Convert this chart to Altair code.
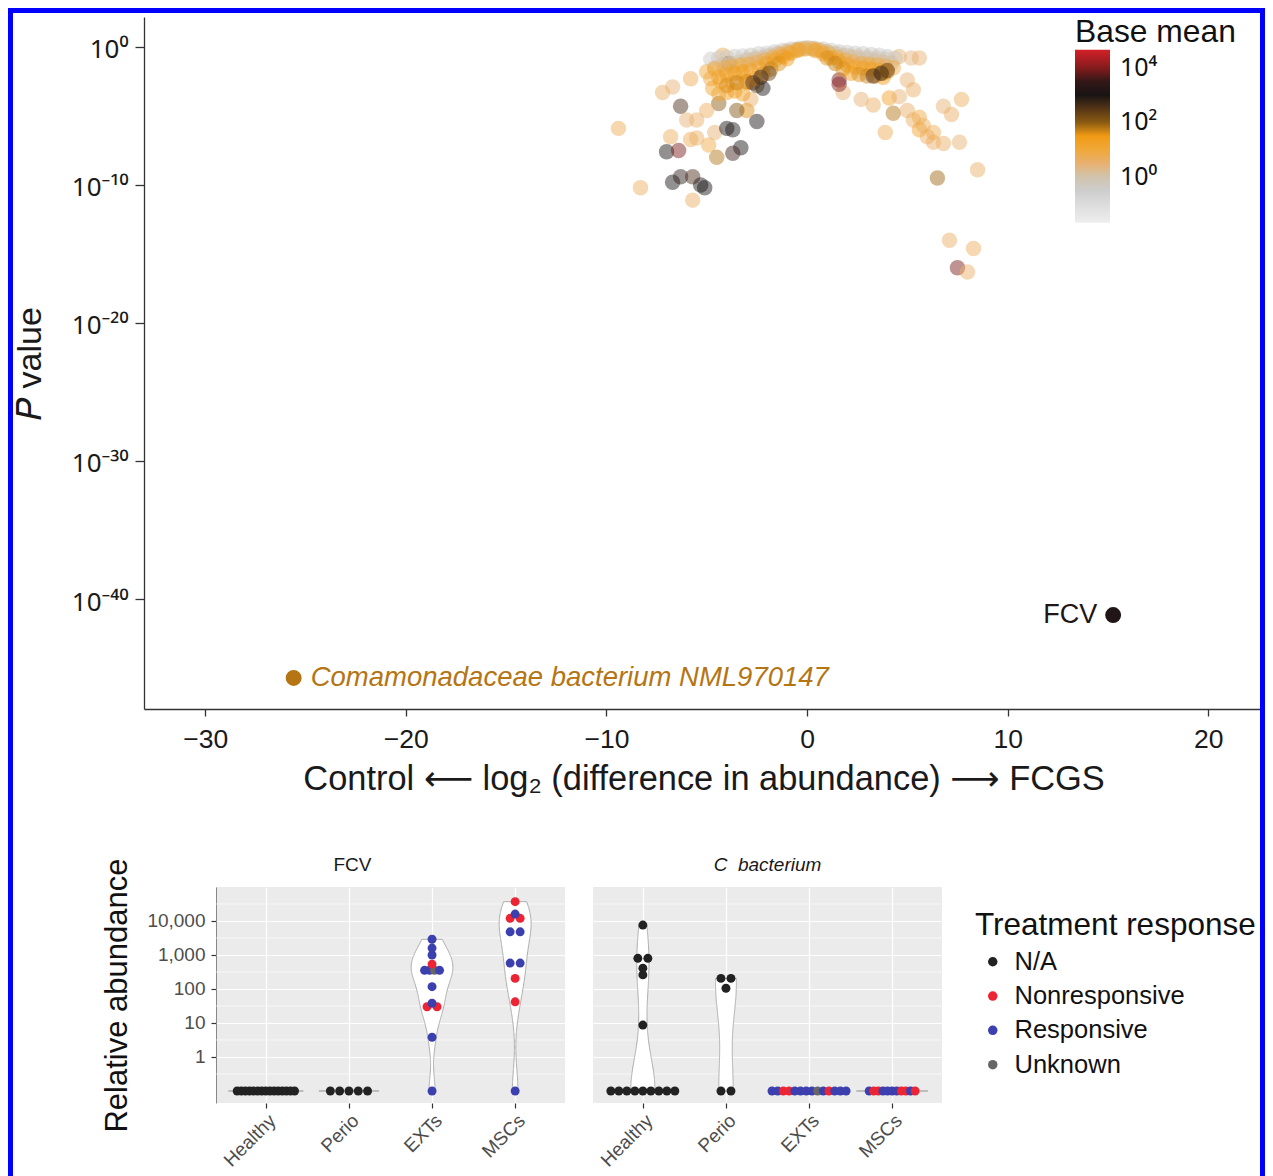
import numpy as np
import pandas as pd
import altair as alt

FONT = "Liberation Sans, DejaVu Sans"
SUP_FONT = "Noto Sans, DejaVu Sans"

# ---------------- volcano plot data (log2 fold change, log10 P, log10 base mean) -------------
left_fc = [-9.4, -8.3, -7.2, -6.7, -5.8, -6.3, -6.8, -7.0, -6.4, -5.8, -5.5, -4.9, -6.7, -6.3,
           -5.7, -5.3, -5.1, -5.7, -4.5, -4.6, -4.0, -3.7, -3.3, -3.7, -2.5, -4.4, -4.8, -4.2,
           -3.9, -5.0, -5.5, -6.0, -3.0, -3.5, -2.8, -4.0, -3.7, -3.0, -3.3, -2.5, -2.2,
           -4.6, -4.3, -4.0, -3.6, -4.4, -5.0, -4.7, -3.2]
left_lp = [-5.9, -10.2, -3.3, -2.9, -2.3, -4.3, -6.5, -7.6, -7.5, -6.7, -6.6, -7.1, -9.8, -9.4,
           -9.4, -10.0, -10.2, -11.1, -8.0, -6.2, -5.9, -6.0, -7.3, -7.7, -5.4, -4.1, -2.3, -0.6,
           -1.2, -4.6, -5.3, -5.3, -4.6, -4.6, -3.8, -3.3, -2.6, -2.6, -1.9, -2.8, -3.0,
           -1.5, -2.5, -1.8, -3.2, -3.4, -1.8, -3.0, -3.4]
left_bm = [0.8, 0.7, 0.6, 0.5, 0.8, 2.6, 0.7, 3.0, 3.9, 0.8, 0.6, 0.9, 3.0, 2.8,
           2.6, 3.1, 3.0, 0.6, 1.8, 0.5, 3.0, 2.9, 3.0, 2.7, 3.0, 2.0, 0.9, 0.8,
           3.0, 0.7, 0.6, 0.5, 1.6, 2.1, 0.6, 1.3, 1.3, 1.3, 1.2, 2.4, 3.0,
           1.3, 1.4, 1.2, 1.5, 1.1, 1.0, 1.2, 1.4]

right_fc = [1.6, 1.8, 2.7, 3.3, 3.9, 4.3, 4.1, 4.6, 5.0, 5.3, 5.6, 6.0, 6.3, 6.8, 7.6, 6.8, 7.2,
            7.7, 8.5, 6.5, 7.1, 8.3, 7.5, 8.0, 4.6, 5.2, 5.6, 5.0, 5.3, 5.6, 5.8, 6.3, 3.8]
right_lp = [-2.4, -3.3, -3.8, -4.2, -6.2, -4.8, -3.7, -3.6, -4.6, -5.3, -6.0, -6.5, -6.9, -7.0,
            -6.9, -4.3, -4.9, -3.8, -8.9, -9.5, -14.0, -14.6, -16.0, -16.3, -0.7, -0.8, -0.8,
            -2.4, -3.1, -5.1, -5.7, -6.2, -1.9]
right_bm = [3.9, 0.5, 0.5, 0.6, 0.8, 1.8, 1.3, 0.5, 0.6, 0.6, 1.2, 0.7, 0.6, 0.6, 0.5, 0.5, 0.6,
            0.7, 0.6, 1.9, 0.6, 0.7, 3.9, 0.6, 0.5, 0.4, 0.5, 0.5, 0.6, 0.9, 0.7, 0.8, 1.3]

arc_gray_fc = [-4.8, -4.4, -4.0, -3.6, -3.2, -2.8, -2.4, -2.0, -1.6, -1.2, -0.8, -0.4, 0.0,
               0.4, 0.8, 1.2, 1.6, 2.0, 2.4, 2.8, 3.2, 3.6, 4.0, 4.4]
arc_gray_lp = [-0.9, -0.8, -0.75, -0.7, -0.65, -0.6, -0.5, -0.45, -0.35, -0.25, -0.15, -0.1, -0.05,
               -0.1, -0.15, -0.25, -0.35, -0.4, -0.45, -0.5, -0.55, -0.6, -0.7, -0.8]
arc_gray_bm = [-0.3, -0.4, -0.2, -0.3, -0.4, -0.2, -0.3, -0.4, -0.3, -0.2, -0.3, -0.4, -0.3,
               -0.4, -0.3, -0.2, -0.3, -0.4, -0.3, -0.2, -0.3, -0.4, -0.3, -0.2]

arc_crest_fc = [-3.0, -2.5, -2.0, -1.5, -1.0, -0.5, 0.0, 0.5, 1.0, 1.5, 2.0, 2.5, 3.0, 3.5, 4.0]
arc_crest_lp = [-0.9, -0.8, -0.65, -0.5, -0.35, -0.2, -0.1, -0.2, -0.35, -0.5, -0.6, -0.7, -0.75,
                -0.8, -0.9]
arc_crest_bm = [-0.2, -0.1, -0.2, -0.1, -0.2, -0.1, -0.2, -0.1, -0.2, -0.1, -0.2, -0.1, -0.2,
                -0.1, -0.2]

arc_tan_fc = [-4.2, -3.8, -3.4, -3.0, -2.6, -2.2, -1.8, -1.4, -1.0, -0.6, -0.2, 0.2, 0.6, 1.0,
              1.4, 1.8, 2.2, 2.6, 3.0, 3.4, 3.8, 4.2]
arc_tan_lp = [-1.3, -1.2, -1.1, -1.0, -0.9, -0.8, -0.6, -0.45, -0.3, -0.2, -0.1, -0.1, -0.2, -0.35,
              -0.5, -0.65, -0.75, -0.85, -0.9, -1.0, -1.1, -1.2]
arc_tan_bm = [0.1, 0.2, 0.0, 0.1, 0.2, 0.1, 0.0, 0.1, 0.2, 0.1, 0.0, 0.1, 0.2, 0.1, 0.0, 0.1,
              0.2, 0.1, 0.0, 0.1, 0.2, 0.1]

arc_mid_fc = [-4.6, -4.1, -3.7, -3.3, -2.9, -2.5, -2.1, -1.7, -1.3, -0.9, -0.5, -0.1, 0.3, 0.7,
              1.1, 1.5, 1.9, 2.3, 2.7, 3.1, 3.5, 3.9, 4.3]
arc_mid_lp = [-1.6, -1.5, -1.4, -1.3, -1.25, -1.1, -0.95, -0.75, -0.55, -0.4, -0.25, -0.15, -0.15,
              -0.3, -0.5, -0.75, -0.95, -1.1, -1.2, -1.25, -1.3, -1.4, -1.5]
arc_mid_bm = [0.9, 0.8, 0.9, 1.0, 0.9, 0.8, 0.9, 1.0, 0.9, 0.8, 0.9, 1.0, 0.9, 0.8, 0.9, 1.0,
              0.9, 0.8, 0.9, 1.0, 0.9, 0.8, 0.9]

arc_orange_fc = [-4.4, -4.0, -3.6, -3.2, -2.8, -2.4, -2.0, -1.6, -1.2, -0.8, -0.4, 0.4, 0.8, 1.2,
                 1.6, 2.0, 2.4, 2.8, 3.2, 3.6, 4.0]
arc_orange_lp = [-2.2, -2.0, -1.9, -1.8, -1.7, -1.5, -1.2, -0.95, -0.7, -0.45, -0.2, -0.25, -0.5,
                 -0.8, -1.05, -1.3, -1.45, -1.55, -1.6, -1.7, -1.8]
arc_orange_bm = [1.3, 1.2, 1.3, 1.4, 1.3, 1.2, 1.3, 1.4, 1.3, 1.2, 1.3, 1.3, 1.2, 1.3, 1.4, 1.3,
                 1.2, 1.3, 1.4, 1.3, 1.2]

arc_deep_fc = [-4.0, -3.5, -3.0, -2.6, -2.2, -1.8, -1.4, -1.0, 1.0, 1.4, 1.8, 2.2, 2.6, 3.0, 3.4,
               3.8, -2.7, -2.3, -1.9, 3.3, 3.7, 4.0, 1.6]
arc_deep_lp = [-2.8, -2.6, -2.5, -2.3, -2.0, -1.6, -1.2, -0.85, -0.8, -1.2, -1.6, -1.9, -2.0, -2.1,
               -2.1, -2.2, -2.6, -2.2, -1.9, -2.1, -1.9, -1.7, -2.7]
arc_deep_bm = [1.6, 1.7, 1.6, 1.5, 1.6, 1.7, 1.6, 1.5, 1.6, 1.7, 1.6, 1.5, 1.6, 1.7, 1.6,
               1.5, 2.6, 2.8, 2.4, 2.6, 2.9, 2.5, 4.0]

hi_names = ["FCV", "Comamonadaceae bacterium NML970147"]
hi_fc = [15.26, -25.59]
hi_lp = [-41.16, -45.72]
hi_bm = [3.25, 1.78]

x_ticks = [-30, -20, -10, 0, 10, 20]
y_ticks = [0, -10, -20, -30, -40]
y_tick_labels = ["10⁰", "10⁻¹⁰", "10⁻²⁰", "10⁻³⁰", "10⁻⁴⁰"]
bm_ticks = [0, 2, 4]
bm_tick_labels = ["10⁰", "10²", "10⁴"]

bm_stops = [-1.69, -0.85, -0.35, 0.05, 0.5, 1.0, 1.5, 2.0, 2.45, 2.95, 3.45, 3.9, 4.66]
bm_colors = ["#eeeeee", "#d8d8d8", "#c8c8c8", "#d2c2a8", "#e8b070", "#f0a838", "#f09a14",
             "#8a5a12", "#5a3a12", "#161414", "#2a1616", "#7a1a1a", "#d42028"]

# ---------------- abundance panels data ----------------
groups_order = ["Healthy", "Perio", "EXTs", "MSCs"]

fcv_group = (["Healthy"] * 15 + ["Perio"] * 5 + ["EXTs"] * 14 + ["MSCs"] * 11)
fcv_value = ([0, 0, 0, 0, 0, 0, 0, 0, 0, 0, 0, 0, 0, 0, 0] + [0, 0, 0, 0, 0]
             + [0, 3.8, 30, 30, 38, 117, 355, 355, 355, 355, 540, 1000, 1600, 2900]
             + [0, 42, 205, 580, 580, 4800, 4800, 12000, 12000, 16000, 37000])
exts_resp = ["Responsive", "Responsive", "Nonresponsive", "Nonresponsive", "Responsive",
             "Responsive", "Responsive", "Responsive", "Unknown", "Responsive", "Nonresponsive",
             "Responsive", "Responsive", "Responsive"]
mscs_resp = ["Responsive", "Nonresponsive", "Nonresponsive", "Responsive", "Responsive",
             "Responsive", "Responsive", "Nonresponsive", "Nonresponsive", "Responsive",
             "Nonresponsive"]
fcv_resp = ["N/A"] * 20 + exts_resp + mscs_resp

cb_group = (["Healthy"] * 15 + ["Perio"] * 5 + ["EXTs"] * 14 + ["MSCs"] * 11)
cb_value = ([0, 0, 0, 0, 0, 0, 0, 0, 0, 8.7, 260, 410, 800, 800, 7600]
            + [0, 0, 105, 205, 205]
            + [0, 0, 0, 0, 0, 0, 0, 0, 0, 0, 0, 0, 0, 0]
            + [0, 0, 0, 0, 0, 0, 0, 0, 0, 0, 0])
cb_resp = ["N/A"] * 20 + exts_resp + mscs_resp

resp_levels = ["N/A", "Nonresponsive", "Responsive", "Unknown"]
resp_colors = ["#222222", "#ec2433", "#3c3fae", "#666666"]

ab_ticks = [0, 1, 2, 3, 4]
ab_minor = [-0.5, 0.5, 1.5, 2.5, 3.5, 4.5]

# dot stacking (pixels) for the zero row in each group
fcv_zero_sp = {"Healthy": 4.1, "Perio": 9.3, "EXTs": 10, "MSCs": 10}
cb_zero_sp = {"Healthy": 8.0, "Perio": 10, "EXTs": 5.7, "MSCs": 4.6}

# ---------------- build volcano ----------------
vol_df = pd.DataFrame({
    "fc": (left_fc + right_fc + arc_gray_fc + arc_crest_fc + arc_tan_fc + arc_mid_fc
           + arc_orange_fc + arc_deep_fc),
    "lp": (left_lp + right_lp + arc_gray_lp + arc_crest_lp + arc_tan_lp + arc_mid_lp
           + arc_orange_lp + arc_deep_lp),
    "bm": (left_bm + right_bm + arc_gray_bm + arc_crest_bm + arc_tan_bm + arc_mid_bm
           + arc_orange_bm + arc_deep_bm),
})
hi_df = pd.DataFrame({"name": hi_names, "fc": hi_fc, "lp": hi_lp, "bm": hi_bm})


def ternary(vals, labels):
    expr = "''"
    for v, l in zip(reversed(vals), reversed(labels)):
        expr = f"datum.value == {v} ? '{l}' : ({expr})"
    return expr


X_ENC = alt.X("fc:Q", scale=alt.Scale(domain=[-33.05, 22.73], nice=False, zero=False),
              axis=alt.Axis(values=x_ticks, format="d",
                            title="Control \u27f5 log₂ (difference in abundance) \u27f6 FCGS",
                            grid=False, labelFontSize=26.5, titleFontSize=34.4,
                            labelColor="#1a1a1a", titleColor="#1a1a1a",
                            tickColor="#333333", domainColor="#333333", tickSize=7,
                            tickWidth=1.3, domainWidth=1.3, labelPadding=10, titlePadding=10,
                            titleFontWeight="normal", labelFlush=False))
Y_ENC = alt.Y("lp:Q", scale=alt.Scale(domain=[-47.97, 2.17], nice=False, zero=False),
              axis=alt.Axis(values=y_ticks, labelExpr=ternary(y_ticks, y_tick_labels),
                            labelFont=SUP_FONT, labelOffset=3,
                            title="𝑃 value", grid=False, labelFontSize=26, titleFontSize=34,
                            labelColor="#1a1a1a", titleColor="#1a1a1a",
                            tickColor="#333333", domainColor="#333333", tickSize=9,
                            tickWidth=1.3, domainWidth=1.3, labelPadding=7, titlePadding=24,
                            titleFontWeight="normal", labelFlush=False))
COLOR_ENC = alt.Color("bm:Q",
                      scale=alt.Scale(domain=bm_stops, range=bm_colors, clamp=True),
                      legend=alt.Legend(title="Base mean", orient="none", legendX=931, legendY=0,
                                        direction="vertical", gradientLength=173,
                                        gradientThickness=35, values=bm_ticks,
                                        labelExpr=ternary(bm_ticks, bm_tick_labels),
                                        labelFont=SUP_FONT,
                                        labelFontSize=25, titleFontSize=31.8,
                                        titleFontWeight="normal", titleColor="#111111",
                                        labelColor="#111111", titlePadding=1, labelOffset=10,
                                        gradientStrokeWidth=0, padding=0))

# decorative blue frame around the whole figure
frame = alt.Chart(alt.Data(values=[{"f": 1}])).mark_rect(
    fillOpacity=0, stroke="#0000ff", strokeWidth=5).encode(
    x=alt.value(-133.5), x2=alt.value(1118.5), y=alt.value(-6.5), y2=alt.value(1180))

pts = alt.Chart(vol_df).mark_circle(size=240, fillOpacity=0.47, opacity=1).encode(
    x=X_ENC, y=Y_ENC, color=COLOR_ENC)
hi_pts = alt.Chart(hi_df).mark_circle(size=254, opacity=1).encode(
    x=X_ENC, y=Y_ENC, color=COLOR_ENC)
fcv_txt = alt.Chart(hi_df).transform_filter("datum.name == 'FCV'").mark_text(
    align="right", baseline="middle", dx=-16, fontSize=27).encode(
    x=X_ENC, y=Y_ENC, color=COLOR_ENC, text="name:N")
com_txt = alt.Chart(hi_df).transform_filter("datum.name != 'FCV'").mark_text(
    align="left", baseline="middle", dx=17, fontSize=27.5, fontStyle="italic").encode(
    x=X_ENC, y=Y_ENC, color=COLOR_ENC, text="name:N")

top = alt.layer(frame, pts, hi_pts, fcv_txt, com_txt).properties(width=1119, height=692)

# ---------------- build abundance panels ----------------
PANEL_W, PANEL_H = 349, 216
PX_PER_UNIT = PANEL_W / 4.2


def nrd0(a):
    n = len(a)
    hi = np.std(a, ddof=1)
    q1, q3 = np.percentile(a, [25, 75])
    lo = min(hi, (q3 - q1) / 1.34)
    if lo == 0:
        lo = hi if hi > 0 else (abs(a[0]) if a[0] != 0 else 1.0)
    return 0.9 * lo * n ** (-0.2)


def build_panel_data(groups, values, resps, zero_sp):
    dots, vio = [], []
    dens_all = []
    for gi, g in enumerate(groups_order):
        idx = gi + 1
        vals = [v for gg, v in zip(groups, values) if gg == g]
        rs = [r for gg, r in zip(groups, resps) if gg == g]
        ly = np.array([np.log10(v) if v > 0 else -1.0 for v in vals])
        rows = {}
        for l, r in zip(ly, rs):
            rows.setdefault(round(float(l), 6), []).append(r)
        for l, rl in rows.items():
            k = len(rl)
            sp = zero_sp[g] if l == -1.0 else (10 if k == 2 else 5)
            for j, r in enumerate(rl):
                dots.append({"grp": g, "ly": l,
                             "x": idx + (j - (k - 1) / 2) * sp / PX_PER_UNIT, "resp": r})
        bw = nrd0(ly)
        if ly.max() - ly.min() < 1e-9:
            grid = np.array([ly.min() - 0.003, ly.min() + 0.003])
            dens = np.full(2, 1 / (bw * np.sqrt(2 * np.pi)))
        else:
            grid = np.linspace(ly.min(), ly.max(), 160)
            z = (grid[:, None] - ly[None, :]) / bw
            dens = np.exp(-0.5 * z ** 2).sum(axis=1) / (len(ly) * bw * np.sqrt(2 * np.pi))
        dens_all.append((g, idx, grid, dens))
    dmax = max(d.max() for _, _, _, d in dens_all)
    for g, idx, grid, dens in dens_all:
        hw = 0.45 * dens / dmax
        for yv, h in zip(grid, hw):
            vio.append({"grp": g, "ly": float(yv), "xl": idx - h, "xr": idx + h})
    return pd.DataFrame(dots), pd.DataFrame(vio)


XDOM = alt.Scale(domain=[0.4, 4.6], nice=False, zero=False)
YDOM = alt.Scale(domain=[-1.353, 5.0], nice=False, zero=False)
x_lab_expr = "['', 'Healthy', 'Perio', 'EXTs', 'MSCs'][datum.value]"


def panel(groups, values, resps, zero_sp, title, italic, first, show_legend):
    dots_df, vio_df = build_panel_data(groups, values, resps, zero_sp)
    x_axis = alt.Axis(values=[1, 2, 3, 4], labelExpr=x_lab_expr, labelAngle=315,
                      labelAlign="right", labelBaseline="top", labelFontSize=19,
                      labelColor="#4d4d4d", tickColor="#333333", tickSize=5, tickWidth=1.2,
                      domain=False, grid=True, gridColor="white", gridWidth=1.2, title="",
                      labelPadding=3)
    if first:
        y_axis = alt.Axis(values=ab_ticks, labelExpr="format(pow(10, datum.value), ',')",
                          title="Relative abundance", titleFontSize=31,
                          titleFontWeight="normal", titleColor="#111111",
                          labelFontSize=19, labelColor="#4d4d4d", tickColor="#333333",
                          tickSize=5, tickWidth=1.2, domain=True, domainColor="#888888",
                          domainWidth=1, grid=True, gridColor="white", gridWidth=1.2,
                          titlePadding=13, labelPadding=6)
    else:
        y_axis = alt.Axis(values=ab_ticks, labels=False, ticks=False, domain=False,
                          title="", grid=True, gridColor="white", gridWidth=1.2)

    def X(field):
        return alt.X(field, type="quantitative", scale=XDOM, axis=x_axis)

    Y = alt.Y("ly:Q", scale=YDOM, axis=y_axis)

    if show_legend:
        leg = alt.Legend(title="Treatment response", orient="none", legendX=382, legendY=22.5,
                         titleFontSize=31.5, titleFontWeight="normal", titleColor="#111111",
                         labelFontSize=25.5, labelColor="#111111", symbolType="circle",
                         symbolSize=90, symbolStrokeWidth=0, rowPadding=7.3, titlePadding=8,
                         symbolOffset=5, labelOffset=9, padding=0, labelLimit=500,
                         titleLimit=500)
    else:
        leg = None
    color = alt.Color("resp:N", scale=alt.Scale(domain=resp_levels, range=resp_colors),
                      legend=leg)

    minor = alt.Chart(pd.DataFrame({"ly": ab_minor})).mark_rule(
        color="white", strokeWidth=0.6).encode(y=Y)
    vio = alt.Chart(vio_df).mark_area(orient="horizontal", color="white", fill="white",
                                      fillOpacity=1, opacity=1, stroke="#adadad",
                                      strokeWidth=1).encode(
        y=Y, x=X("xl"), x2="xr:Q", detail="grp:N")
    dots = alt.Chart(dots_df).mark_circle(size=80, opacity=1).encode(
        x=X("x"), y=Y, color=color)

    tp = alt.TitleParams(title, fontSize=19, fontWeight="normal", color="#1a1a1a",
                         anchor="middle", frame="group", offset=12,
                         dx=-38 if first else 0, dy=29 if first else 0,
                         fontStyle="italic" if italic else "normal")
    return alt.layer(minor, vio, dots).properties(
        width=PANEL_W, height=PANEL_H, title=tp,
        view=alt.ViewBackground(fill="#ebebeb", strokeWidth=0))


p1 = panel(fcv_group, fcv_value, fcv_resp, fcv_zero_sp, "FCV", False, True, False)
p2 = panel(cb_group, cb_value, cb_resp, cb_zero_sp, "C\u00a0\u00a0bacterium", True, False, True)

spacer = alt.Chart(alt.Data(values=[{"s": 0}])).mark_point(opacity=0).encode(
    x=alt.X("s:Q", axis=None), y=alt.Y("s:Q", axis=None)).properties(width=44, height=PANEL_H)

bottom = alt.hconcat(spacer, p1, p2, spacing=28, bounds="flush").resolve_scale(
    color="independent")

chart = alt.vconcat(top, bottom, spacing=178, bounds="flush").resolve_scale(
    color="independent").properties(padding=0).configure(
    font=FONT).configure_view(strokeWidth=0)

chart.save("out.html", embed_options={"renderer": "svg", "actions": False})
